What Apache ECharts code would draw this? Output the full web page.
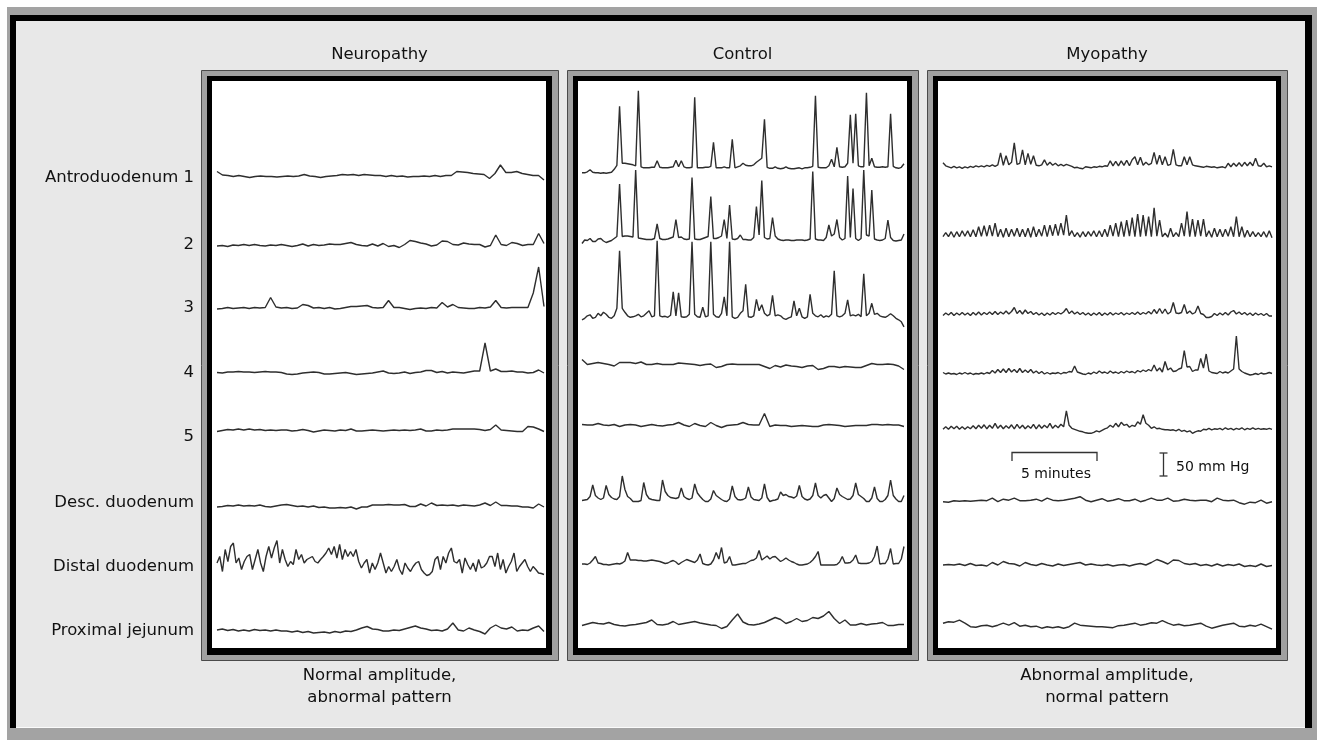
<!DOCTYPE html>
<html>
<head>
<meta charset="utf-8">
<script src="https://cdn.jsdelivr.net/npm/echarts@6/dist/echarts.min.js"></script>
<style>
  html, body { margin: 0; padding: 0; background: #fff; }
  #chart { width: 1317px; height: 740px; }
</style>
</head>
<body>
<div id="chart"></div>
<script>
// channels (rows) and groups (panels)
const channels = ['Antroduodenum 1', '2', '3', '4', '5', 'Desc. duodenum', 'Distal duodenum', 'Proximal jejunum'];
const groups = ['Neuropathy', 'Control', 'Myopathy'];
const notes = [['Normal amplitude,', 'abnormal pattern'], null, ['Abnormal amplitude,', 'normal pattern']];

// pressure above resting level, mmHg, evenly sampled over the recording
const neuroA1 = [9,2,1,-1,1,-1,-3,-1,0,-1,-1,-2,-1,0,-1,0,3,0,-1,-3,-1,0,1,3,2,3,1,3,2,1,1,-1,1,-1,0,-2,-1,-1,0,-1,1,-1,1,1,9,8,7,5,4,3,-5,5,22,7,7,9,5,3,1,1,-8];
const neuroA2 = [-2,-1,-3,0,-1,1,-1,1,-1,-2,0,-1,1,-1,-3,-1,2,-2,1,-1,0,2,1,1,3,5,1,-1,-2,2,-2,3,-3,-1,-5,1,9,7,4,2,-2,0,8,7,1,0,4,2,1,1,-4,-1,20,1,-1,5,3,-1,1,1,23,3];
const neuroA3 = [-2,-1,1,-1,0,1,-1,1,0,1,21,2,0,1,-1,0,7,5,0,1,-1,1,-2,-1,1,3,3,4,5,1,0,1,15,1,1,-1,-3,-1,0,-1,1,0,11,2,7,1,0,-1,-1,1,0,2,15,1,0,1,1,1,1,30,82,3];
const neuroA4 = [0,-1,1,1,2,1,1,0,1,2,1,1,0,-3,-4,-3,-1,0,1,0,-3,-3,-2,-1,0,-2,-4,-3,-2,-1,1,3,-1,-2,-1,1,-2,0,1,4,4,0,2,-1,1,0,-1,1,3,3,59,3,7,2,2,3,1,1,-1,0,5,-1];
const neuroA5 = [-2,0,2,1,3,1,3,1,2,0,1,0,1,1,-1,0,2,0,-3,-1,1,0,-1,1,0,3,-1,-1,0,1,0,-1,0,1,0,1,0,1,3,-1,-1,1,0,1,3,3,3,3,3,2,0,2,11,1,0,-1,-2,-2,8,7,3,-2];
const neuroDesc = [-1,0,2,1,3,1,2,1,3,0,-1,1,3,4,2,0,1,-1,1,-2,-1,-3,-3,-2,-3,-1,-5,-1,-1,3,3,3,4,3,3,4,0,0,5,1,7,2,3,2,3,1,3,2,1,3,7,2,9,2,2,1,1,-1,-1,-3,5,-1];
const neuroDist = [0,13,-17,27,3,33,40,0,10,-13,3,13,17,-13,7,27,0,-17,13,33,10,30,45,0,27,7,-7,3,-3,27,7,17,0,7,10,13,3,0,7,13,20,30,17,33,10,37,7,27,13,23,13,27,3,-10,0,7,-20,0,-13,0,20,0,-20,-7,-17,-7,7,-13,-23,0,-10,-17,-7,0,3,-13,-20,-25,-23,-17,7,13,-13,13,0,20,30,3,0,7,-20,10,-3,-13,0,-17,7,-10,-7,0,13,13,-7,20,-13,7,-20,-7,3,20,-17,-7,0,7,-7,-17,-7,-13,-20,-21,-23];
const neuroJej = [1,3,0,2,-1,1,-1,2,0,1,-1,1,-1,-1,-3,-1,-4,-2,-5,-4,-3,-5,-2,-4,-1,-2,1,5,8,3,2,-1,-1,1,0,3,6,9,5,3,0,1,-1,3,15,1,-1,5,1,-2,-7,5,11,5,3,7,-1,1,0,5,9,-2];

const ctrlA1 = [-9,-9,-7,-3,-8,-9,-9,-10,-9,-10,-9,-8,-2,6,124,10,10,9,8,7,5,155,3,1,1,1,2,2,15,2,1,1,1,2,3,16,3,15,3,1,1,2,142,1,1,1,2,2,4,52,1,1,1,3,1,1,58,1,3,5,10,6,5,5,7,12,16,20,98,2,0,0,3,0,-1,0,3,0,-1,-1,0,1,-1,1,1,2,4,145,2,1,1,1,5,18,3,42,3,2,3,10,107,10,109,5,3,3,151,5,20,3,2,2,3,2,3,109,4,1,0,2,9];
const ctrlA2 = [-7,0,-1,3,-3,-3,2,3,-2,-5,-3,-1,3,7,112,7,8,8,7,6,140,4,3,2,1,1,1,3,32,3,1,1,2,4,6,41,5,6,2,1,2,125,2,1,1,3,5,7,87,3,3,5,8,41,3,70,2,1,3,10,1,1,0,0,5,67,10,119,5,2,3,45,8,2,0,-1,0,0,-1,-1,0,0,0,-1,0,2,137,2,0,0,-1,5,30,8,12,41,5,0,3,128,5,103,3,-1,3,140,10,8,100,2,0,-1,0,3,40,5,-1,-2,-1,0,12];
const ctrlA3 = [-3,0,5,7,0,2,10,5,12,8,2,0,5,20,135,20,12,5,2,3,5,8,3,5,10,15,3,5,155,5,3,4,2,6,53,5,51,3,2,3,8,153,8,3,2,22,3,5,153,8,3,2,10,43,5,153,3,0,2,10,15,68,3,2,5,38,15,27,10,5,8,46,5,7,5,0,-2,1,3,35,5,20,3,0,3,48,10,5,3,7,2,5,3,8,95,5,3,5,10,37,5,7,5,8,3,89,5,10,30,8,10,5,3,2,5,9,5,0,-3,-7,-17];
const ctrlA4 = [11,1,3,5,3,1,-2,5,5,5,3,6,1,1,3,1,1,1,4,3,2,1,-1,1,2,-5,-3,1,2,1,1,1,1,1,-3,-7,-1,-4,0,-2,-3,-5,-2,-1,-9,-7,-3,-3,-5,-3,-4,-5,-5,-1,3,1,1,2,1,-2,-9];
const ctrlA5 = [1,0,0,3,0,-1,1,-3,0,1,0,-3,-1,1,-1,-2,0,1,5,0,-3,3,-1,-3,5,-1,-5,-1,0,1,5,1,0,0,23,-3,0,-1,-1,-3,-2,-1,-2,-3,-3,0,1,0,-1,-3,-2,-1,-1,-1,1,1,0,1,0,0,-3];
const ctrlDesc = [0,1,2,8,31,10,5,2,5,30,12,6,3,2,8,49,22,8,4,-2,-2,-2,0,36,12,4,2,1,0,0,41,18,10,6,5,4,6,25,8,4,2,5,33,15,8,2,-2,-2,3,20,10,6,2,-1,-2,3,29,8,2,1,2,5,27,7,2,1,0,5,33,6,-2,0,1,3,17,10,12,8,7,5,9,30,8,3,1,3,10,35,10,5,10,12,5,-2,4,25,12,8,5,2,3,10,35,12,8,4,-2,-2,5,27,4,-2,-2,2,10,41,10,3,-2,-2,10];
const ctrlDist = [0,0,-1,2,8,15,2,1,-1,-1,-2,-1,0,1,0,2,6,23,8,8,8,7,7,6,6,7,8,7,6,5,3,1,2,5,7,4,-1,3,6,9,7,5,3,8,20,1,-1,-2,0,8,23,10,33,2,4,15,-2,-2,-1,0,1,1,4,7,8,12,27,8,12,16,10,14,15,10,5,8,12,8,5,3,0,-2,-2,-1,0,3,8,15,25,-2,-2,-2,-2,-2,-2,-1,4,15,2,2,3,8,18,2,1,1,1,2,5,15,36,0,1,1,10,31,0,1,1,10,35];
const ctrlJej = [-1,2,5,3,2,5,1,-1,-2,0,1,3,5,10,1,0,2,7,1,3,5,7,4,2,0,-1,-7,-3,10,22,6,1,0,2,5,10,15,11,3,7,13,7,9,15,13,18,27,13,3,10,0,0,3,0,2,3,5,-1,-1,1,1];

const myoA1 = [9,3,1,-1,2,-1,1,-2,1,-1,2,0,3,1,3,1,4,2,5,2,5,29,4,23,5,10,49,6,8,35,5,28,6,23,4,3,5,15,4,10,4,8,3,6,3,6,4,2,-1,0,-2,-3,1,0,-1,1,0,2,1,3,2,13,3,12,3,13,4,14,3,15,21,5,20,4,10,5,8,30,6,24,5,21,4,6,36,5,3,3,21,5,21,5,3,2,1,0,2,1,0,1,-1,0,1,-1,8,1,8,2,9,2,10,3,10,3,18,3,2,8,1,3,1];
const myoA2 = [0,8,0,10,-1,10,0,12,1,12,0,14,0,20,1,22,1,23,1,27,0,15,-1,17,0,15,1,17,0,15,0,17,-1,20,0,15,1,23,0,23,2,25,2,27,3,43,2,12,0,8,-1,10,0,10,1,12,0,12,0,15,0,23,1,27,0,30,0,33,1,38,0,45,0,43,1,40,0,58,1,33,0,7,-1,17,0,8,0,27,1,50,0,35,0,33,1,35,0,12,-1,17,0,15,0,15,1,20,0,40,0,20,-1,13,0,10,0,8,0,10,-1,12,-2];
const myoA3 = [-1,4,0,5,-1,4,0,5,0,4,-1,5,0,6,0,5,1,6,1,7,1,6,2,8,2,7,15,3,9,2,10,3,7,1,5,0,4,-1,4,0,5,1,5,2,6,13,3,8,2,6,1,5,0,4,-1,4,0,5,-1,4,0,5,0,4,1,5,0,4,1,5,1,6,1,5,2,7,2,11,3,13,3,12,2,6,25,4,3,5,21,3,8,2,5,18,3,1,-5,-5,-3,3,-1,4,0,5,0,6,9,2,6,1,5,0,4,-1,4,0,3,-1,3,-2,-2];
const myoA4 = [3,0,2,0,1,-1,2,0,3,0,2,-1,1,0,2,0,3,1,7,2,9,3,10,3,11,4,9,3,11,3,8,3,9,2,6,1,5,0,3,0,2,1,3,0,3,2,5,4,16,4,2,0,-1,2,0,4,1,6,2,4,1,6,2,4,1,5,2,6,3,5,2,7,4,8,5,9,6,18,6,12,4,25,8,12,5,6,10,12,47,14,15,5,8,8,31,12,40,6,3,2,1,5,2,4,2,6,10,76,10,5,2,0,-2,-1,1,-1,2,0,1,3,1];
const myoA5 = [0,5,0,6,1,6,0,5,0,5,1,7,1,8,2,9,1,8,2,12,2,8,1,7,2,9,1,10,2,8,1,7,2,10,1,9,2,8,3,12,2,8,3,10,5,37,8,2,0,-2,-4,-5,-7,-8,-8,-6,-3,-5,-2,1,3,8,4,12,5,14,8,10,4,8,6,15,10,29,12,8,2,5,1,2,0,-1,-1,-2,-1,-3,0,-4,-2,-5,-3,-8,-5,-3,-4,0,-1,2,-1,1,0,2,-1,3,0,2,-1,2,0,3,-1,2,0,3,0,2,0,1,0,2,0];
const myoDesc = [0,-1,2,1,2,1,2,3,2,7,0,5,3,7,2,2,3,5,1,7,3,2,3,5,7,10,3,0,3,6,1,3,6,2,2,5,0,3,7,3,3,7,1,2,5,3,2,3,3,0,7,3,2,3,-2,-5,-1,-2,3,-3,0];
const myoDist = [0,1,0,2,-1,3,-1,0,-2,5,0,7,3,2,-2,5,1,-1,3,0,-2,2,-1,1,3,5,0,2,0,-1,1,-2,0,1,-2,1,3,0,5,11,7,2,10,9,3,1,3,-1,1,-2,2,-2,1,-1,2,-3,-1,-3,2,-3,-1];
const myoJej = [7,10,9,13,7,0,-1,2,3,0,3,7,3,8,1,3,0,1,-3,0,-2,0,-3,0,7,3,2,1,0,0,-1,-2,2,3,5,7,3,5,8,7,12,7,3,5,2,3,5,7,1,-3,0,3,5,7,1,0,3,1,5,0,-5];

const traces = [
  [neuroA1, neuroA2, neuroA3, neuroA4, neuroA5, neuroDesc, neuroDist, neuroJej],
  [ctrlA1, ctrlA2, ctrlA3, ctrlA4, ctrlA5, ctrlDesc, ctrlDist, ctrlJej],
  [myoA1, myoA2, myoA3, myoA4, myoA5, myoDesc, myoDist, myoJej]
];

// layout (pixels)
const PX_PER_MMHG = 0.5;
const Y_MIN = -40, Y_MAX = 200;
const panels = [
  { x0: 201, x1: 558, wl: 212, wr: 546, tl: 217, tr: 544, base: [176, 245, 308, 372.5, 430.5, 506.5, 563, 630.5] },
  { x0: 567, x1: 918, wl: 578, wr: 907, tl: 582, tr: 904, base: [168.3, 240, 318.3, 365, 425, 500.5, 564, 625] },
  { x0: 927, x1: 1287, wl: 938, wr: 1276, tl: 943, tr: 1272, base: [167.3, 236.7, 315, 374, 429.3, 501.7, 565, 626.7] }
];
const labelY = [178, 245, 308, 373, 437, 503, 567, 631];
const FONT = '"DejaVu Sans", Verdana, sans-serif';

const grid = [], xAxis = [], yAxis = [], series = [];
panels.forEach((p, pi) => {
  p.base.forEach((b, ri) => {
    const k = grid.length;
    const data = traces[pi][ri];
    grid.push({
      left: p.tl, width: p.tr - p.tl,
      top: b - Y_MAX * PX_PER_MMHG, height: (Y_MAX - Y_MIN) * PX_PER_MMHG,
      outerBoundsMode: 'none', show: false
    });
    xAxis.push({ type: 'category', gridIndex: k, boundaryGap: false, show: false, data: data.map((_, i) => i) });
    yAxis.push({ type: 'value', gridIndex: k, min: Y_MIN, max: Y_MAX, show: false });
    series.push({
      name: groups[pi] + ' – ' + channels[ri],
      type: 'line', xAxisIndex: k, yAxisIndex: k, data: data,
      symbol: 'none', silent: true, z: 10,
      lineStyle: { color: '#2e2e2e', width: 1.4 }
    });
  });
});

const graphic = [];
// outer bevelled frame
graphic.push({ type: 'rect', z: 0, shape: { x: 7, y: 7, width: 1310, height: 733 }, style: { fill: '#a3a3a3' } });
graphic.push({ type: 'rect', z: 0, shape: { x: 10, y: 15, width: 1302, height: 713 }, style: { fill: '#000' } });
graphic.push({ type: 'rect', z: 0, shape: { x: 16, y: 21, width: 1289, height: 707 }, style: { fill: '#e8e8e8' } });
graphic.push({ type: 'rect', z: 0, shape: { x: 16, y: 727, width: 1289, height: 1 }, style: { fill: '#fbfbfb' } });

panels.forEach((p, pi) => {
  graphic.push({ type: 'rect', z: 1, shape: { x: p.x0 + 0.5, y: 70.5, width: p.x1 - p.x0, height: 590 },
    style: { fill: '#a0a0a0', stroke: '#4a4a4a', lineWidth: 1 } });
  graphic.push({ type: 'rect', z: 1, shape: { x: p.x0 + 6, y: 76, width: p.x1 - p.x0 - 12, height: 579 }, style: { fill: '#000' } });
  graphic.push({ type: 'rect', z: 1, shape: { x: p.wl, y: 81, width: p.wr - p.wl, height: 567 }, style: { fill: '#fff' } });
  const cx = (p.x0 + p.x1) / 2;
  graphic.push({ type: 'text', z: 2, x: cx, y: 55,
    style: { text: groups[pi], fontSize: 16.5, fontFamily: FONT, fill: '#111', align: 'center', verticalAlign: 'middle' } });
  if (notes[pi]) {
    notes[pi].forEach((t, li) => {
      graphic.push({ type: 'text', z: 2, x: cx, y: 676 + li * 22,
        style: { text: t, fontSize: 16.5, fontFamily: FONT, fill: '#111', align: 'center', verticalAlign: 'middle' } });
    });
  }
});

channels.forEach((c, i) => {
  graphic.push({ type: 'text', z: 2, x: 194, y: labelY[i],
    style: { text: c, fontSize: 16.5, fontFamily: FONT, fill: '#111', align: 'right', verticalAlign: 'middle' } });
});

// scale bars
const barStyle = { stroke: '#333', lineWidth: 1.3, fill: null };
graphic.push({ type: 'polyline', z: 3, shape: { points: [[1012, 461], [1012, 452.5], [1097, 452.5], [1097, 461]] }, style: barStyle });
graphic.push({ type: 'text', z: 3, x: 1056, y: 474,
  style: { text: '5 minutes', fontSize: 14, fontFamily: FONT, fill: '#111', align: 'center', verticalAlign: 'middle' } });
graphic.push({ type: 'line', z: 3, shape: { x1: 1163.5, y1: 453, x2: 1163.5, y2: 476 }, style: barStyle });
graphic.push({ type: 'line', z: 3, shape: { x1: 1159.5, y1: 453, x2: 1167.5, y2: 453 }, style: barStyle });
graphic.push({ type: 'line', z: 3, shape: { x1: 1159.5, y1: 476, x2: 1167.5, y2: 476 }, style: barStyle });
graphic.push({ type: 'text', z: 3, x: 1176, y: 467,
  style: { text: '50 mm Hg', fontSize: 14, fontFamily: FONT, fill: '#111', align: 'left', verticalAlign: 'middle' } });

const chart = echarts.init(document.getElementById('chart'));
chart.setOption({
  backgroundColor: '#fff',
  animation: false,
  grid: grid,
  xAxis: xAxis,
  yAxis: yAxis,
  graphic: graphic,
  series: series
});
window.onresize = function () {
    chart.resize();
};
</script>
</body>
</html>
